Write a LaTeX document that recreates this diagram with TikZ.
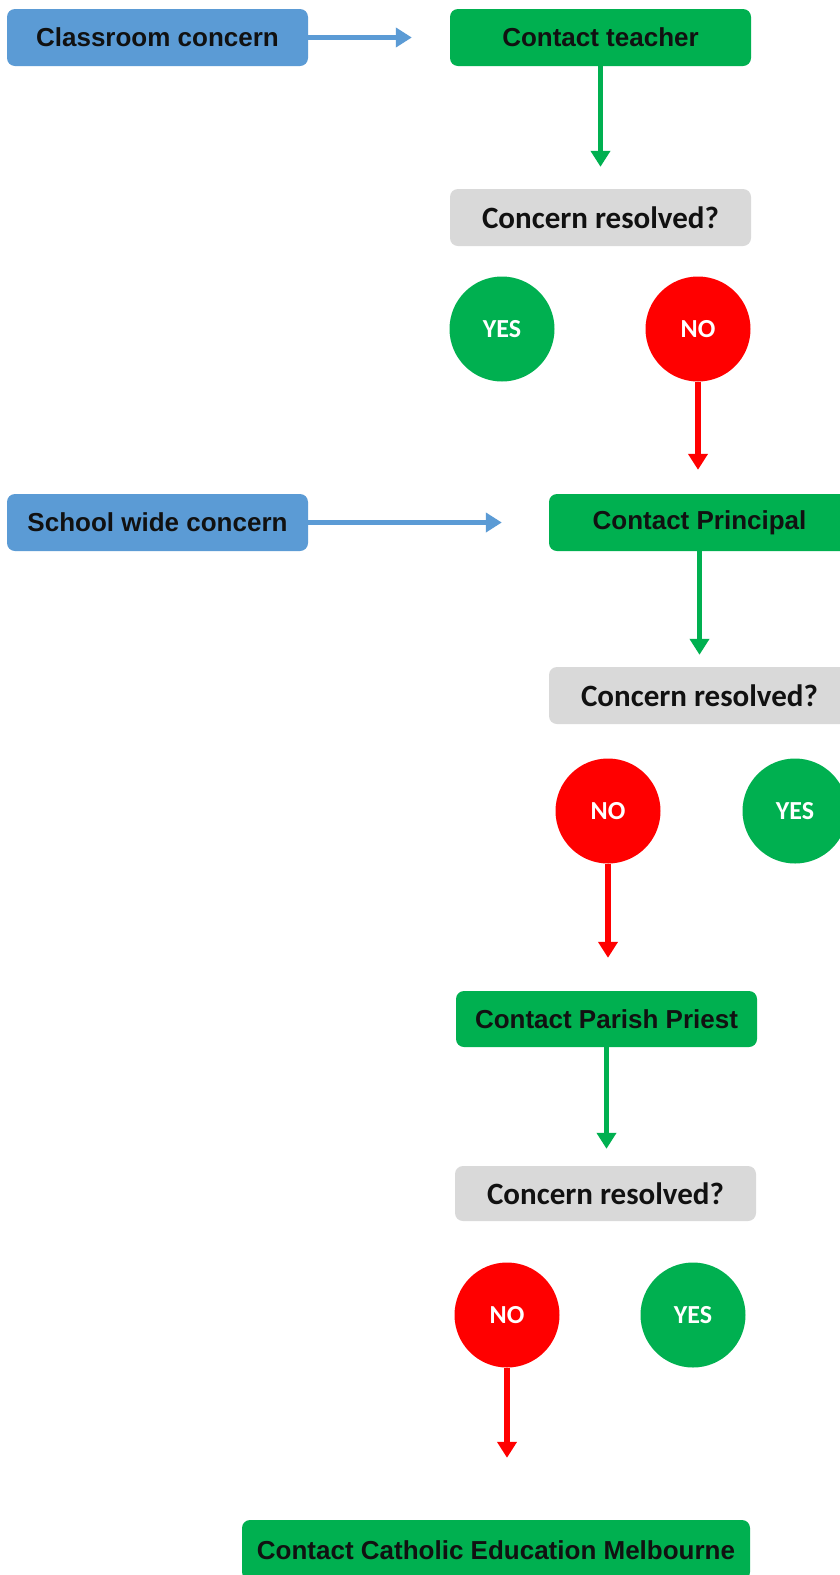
\documentclass[tikz,border=0pt]{standalone}
\usepackage{fontspec}
\setmainfont{Liberation Sans}
\newfontfamily\calfont{Carlito}
\usetikzlibrary{arrows.meta}
\definecolor{cblue}{HTML}{5B9BD5}
\definecolor{cgreen}{HTML}{00B050}
\definecolor{cred}{HTML}{FF0000}
\definecolor{cgrey}{HTML}{D9D9D9}
\definecolor{ctext}{HTML}{111111}
\tikzset{
  box/.style={rounded corners=8pt, minimum width=301pt, minimum height=57pt, inner sep=0pt,
    font=\fontsize{26}{30}\selectfont\bfseries, text=ctext},
  bluebox/.style={box, fill=cblue},
  greenbox/.style={box, fill=cgreen},
  greybox/.style={box, fill=cgrey, font=\calfont\fontsize{31}{34}\selectfont\bfseries},
  dot/.style={circle, minimum size=#1, inner sep=0pt, text=white,
    font=\calfont\fontsize{26}{30}\selectfont\bfseries},
  yesdot/.style={dot=105pt, fill=cgreen},
  nodot/.style={dot=105pt, fill=cred},
  arr/.style={line width=5.5pt, -{Triangle[width=19pt,length=16pt]}},
  barr/.style={arr, draw=cblue},
  garr/.style={arr, draw=cgreen},
  rarr/.style={arr, draw=cred}
}
\begin{document}
\begin{tikzpicture}[x=1pt,y=-1pt]
\useasboundingbox (0,0) rectangle (840,1575);
\clip (0,0) rectangle (840,1575);
\fill[white] (0,0) rectangle (840,1575);
% nodes
\node[bluebox] (cls) at (157.5,37.5) {Classroom concern};
\node[greenbox] (ct) at (600.5,37.5) {Contact teacher};
\node[greybox] (cr1) at (600.5,217.5) {Concern resolved?};
\node[yesdot] (yes1) at (502,329) {YES};
\node[nodot] (no1) at (698,329) {NO};
\node[bluebox] (sw) at (157.5,522.5) {School wide concern};
\node[greenbox] (cp) at (699.5,522.5) {Contact Principal};
\node[greybox] (cr2) at (699.5,695.5) {Concern resolved?};
\node[nodot] (no2) at (608,811) {NO};
\node[yesdot] (yes2) at (795,811) {YES};
\node[greenbox, minimum height=56pt] (cpp) at (606.5,1019) {Contact Parish Priest};
\node[greybox, minimum height=55pt] (cr3) at (605.5,1193.5) {Concern resolved?};
\node[nodot] (no3) at (507,1315) {NO};
\node[yesdot] (yes3) at (693,1315) {YES};
\node[greenbox, minimum width=508pt, minimum height=60pt] (cem) at (496,1550) {Contact Catholic Education Melbourne};
% connectors
\draw[barr, shorten >=38pt] (cls.east) -- (cls.east -| ct.west);
\draw[garr, shorten >=22pt] (ct.south) -- (cr1.north);
\draw[rarr, shorten >=24pt] (no1.south) -- (no1.south |- cp.north);
\draw[barr, shorten >=47pt] (sw.east) -- (sw.east -| cp.west);
\draw[garr, shorten >=12pt] (cp.south) -- (cr2.north);
\draw[rarr, shorten >=33pt] (no2.south) -- (no2.south |- cpp.north);
\draw[garr, shorten >=17pt] (cpp.south) -- (cpp.south |- cr3.north);
\draw[rarr, shorten >=62pt] (no3.south) -- (no3.south |- cem.north);
\end{tikzpicture}
\end{document}
